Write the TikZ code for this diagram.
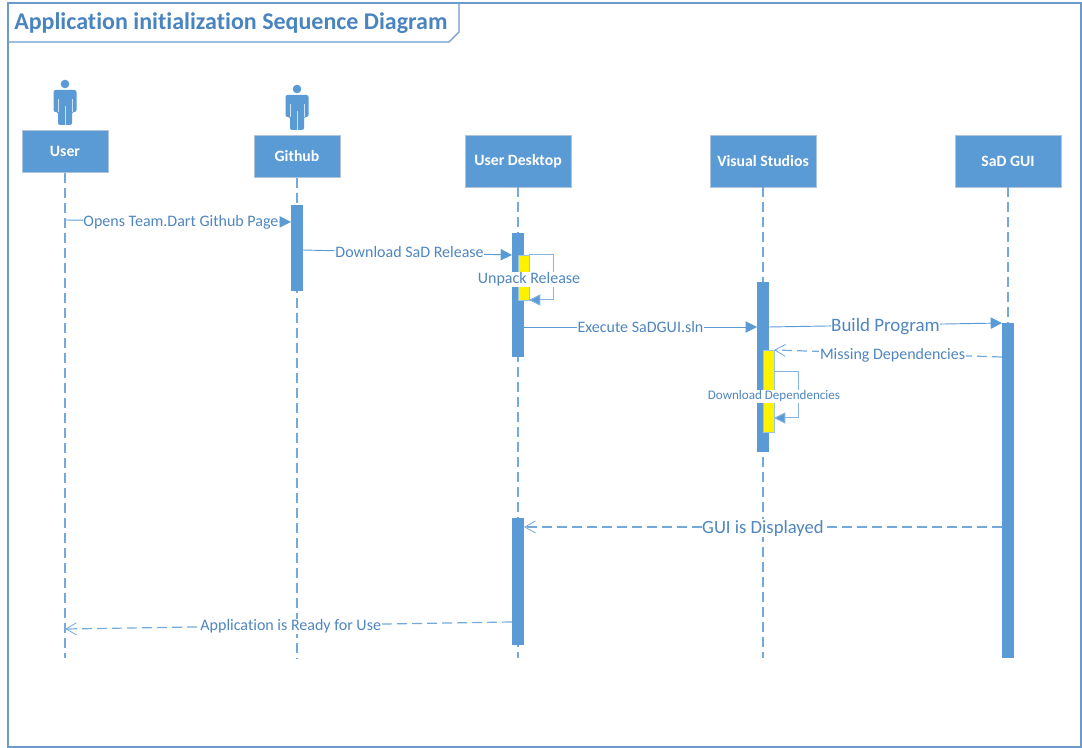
\documentclass[tikz,border=0pt]{standalone}
\usepackage{fontspec}
\setmainfont{Carlito}[Ligatures=NoCommon]
\usepackage{tikz}
\usetikzlibrary{positioning,arrows.meta,calc}
\usepackage{xcolor}
\definecolor{officeBlue}{HTML}{5B9BD5}
\definecolor{frameBlue}{HTML}{6A9BCB}
\definecolor{titleBlue}{HTML}{4A84BF}
\definecolor{labelBlue}{HTML}{4F86C0}
\definecolor{edgeGray}{HTML}{AFC4D8}

\begin{document}
\begin{tikzpicture}[
    x=0.75pt, y=-0.75pt,
    frameBox/.style={draw=frameBlue, line width=0.9pt},
    headBox/.style={rectangle, draw=edgeGray, fill=officeBlue, line width=0.6pt, font=\bfseries\fontsize{11.8}{13}\selectfont, text=white, align=center, minimum width=#1, inner sep=0pt, outer sep=0pt},
    lifeLine/.style={draw=officeBlue!85, line width=0.95pt, dash pattern=on 7.5pt off 3.75pt},
    execBar/.style={rectangle, fill=officeBlue, draw=none, minimum width=9pt, inner sep=0pt, outer sep=0pt, anchor=north},
    waitBar/.style={rectangle, fill=yellow, draw=officeBlue!60!white, line width=0.4pt, minimum width=8.25pt, inner sep=0pt, outer sep=0pt, anchor=north west},
    callArrow/.style={-{Triangle[length=8.5pt,width=8.5pt]}, draw=officeBlue, line width=0.7pt},
    loopArrow/.style={-{Triangle[length=8.5pt,width=8.5pt,fill=officeBlue]}, draw=officeBlue!75, line width=0.75pt},
    backArrow/.style={-{Straight Barb[length=8pt,width=9pt,line width=0.6pt]}, draw=officeBlue!85, line width=0.9pt, dash pattern=on 7.5pt off 3.75pt},
    msgLabel/.style={fill=white, text=labelBlue, inner sep=0.5pt, yshift=-0.8pt, font=\fontsize{#1}{13}\selectfont},
    msgLabel/.default=12,
    actorFig/.pic={
        \fill[officeBlue] (0,0) circle[radius=4.3];
        \fill[officeBlue, rounded corners=1.5pt] (-11.5,6) -- (11.5,6) -- (11.5,28) -- (7,28) -- (7,41) -- (-7,41) -- (-7,28) -- (-11.5,28) -- cycle;
        \draw[white!70!officeBlue, line width=0.5pt] (-7,15) -- (-7,28) (7,15) -- (7,28) (0,22) -- (0,41);
    }
]
    \useasboundingbox (0,0) rectangle (1082,748);

    \draw[frameBox] (8,3) rectangle (1081,747);
    \draw[frameBox] (8,42) -- (449,42) -- (459,32) -- (459,3);
    \node[anchor=west, inner sep=0pt, text=titleBlue, font=\bfseries\fontsize{18}{22}\selectfont] (title) at (14,23) {Application initialization Sequence Diagram};

    \pic at (65,84) {actorFig};
    \pic at (297,89) {actorFig};

    \node[headBox=64.5pt, minimum height=32pt, anchor=north] (user) at (65,130) {User};
    \node[headBox=64.5pt, minimum height=32pt, anchor=north] (github) at (297,135) {Github};
    \node[headBox=79.5pt, minimum height=39pt, anchor=north] (desktop) at (518,135) {User Desktop};
    \node[headBox=79.5pt, minimum height=39pt, anchor=north] (studio) at (763,135) {Visual Studios};
    \node[headBox=79.5pt, minimum height=39pt, anchor=north] (gui) at (1008,135) {SaD GUI};

    \coordinate (userEnd) at (65,658);
    \coordinate (githubEnd) at (297,658);
    \coordinate (desktopEnd) at (518,658);
    \coordinate (studioEnd) at (763,658);
    \coordinate (guiEnd) at (1008,658);
    \draw[lifeLine] (user.south) -- (userEnd);
    \draw[lifeLine] (github.south) -- (githubEnd);
    \draw[lifeLine] (desktop.south) -- (desktopEnd);
    \draw[lifeLine] (studio.south) -- (studioEnd);
    \draw[lifeLine] (gui.south) -- (guiEnd);

    \node[execBar, minimum height=64.5pt] (githubBar) at (297,205) {};
    \node[execBar, minimum height=93pt] (desktopBar) at (518,233) {};
    \node[execBar, minimum height=95.25pt] (desktopBarB) at (518,518) {};
    \node[execBar, minimum height=127.5pt] (studioBar) at (763,282) {};
    \node[execBar, minimum height=251.25pt] (guiBar) at (1008,323) {};
    \node[waitBar, minimum height=33.75pt] (desktopWait) at (518,255) {};
    \node[waitBar, minimum height=61.5pt] (studioWait) at (763,350) {};

    \draw[callArrow] (userEnd |- 0,220) -- node[msgLabel, pos=0.513] {Opens Team.Dart Github Page} (githubBar.west |- 0,222);
    \draw[callArrow] (githubBar.east |- 0,250) -- node[msgLabel, pos=0.51, yshift=1pt] {Download SaD Release} (desktopBar.west |- 0,255);
    \draw[loopArrow] (desktopWait.north east) -- ++(24,0) -- ++(0,45) -- node[msgLabel, pos=1, yshift=16pt, anchor=center] (unpack) {Unpack Release} (desktopWait.south east);
    \draw[callArrow] (desktopBar.east |- 0,327) -- node[msgLabel, yshift=0.6pt] {Execute SaDGUI.sln} (studioBar.west |- 0,327);
    \draw[callArrow] (studioBar.east |- 0,327) -- node[msgLabel=14.2] {Build Program} (guiBar.west |- 0,323);
    \draw[backArrow] (guiBar.west |- 0,357) -- node[msgLabel, pos=0.48, yshift=-0.5pt] {Missing Dependencies} (studioWait.north east);
    \draw[loopArrow] (studioWait.east |- 0,372) -- ++(24,0) -- ++(0,46) -- node[msgLabel=9.8, pos=1, yshift=17pt, anchor=center] (depend) {Download Dependencies} (studioWait.east |- 0,418);
    \draw[backArrow] (guiBar.west |- 0,527) -- node[msgLabel=14] {GUI is Displayed} (desktopBarB.east |- 0,527);
    \draw[backArrow] (desktopBarB.west |- 0,622) -- node[msgLabel, pos=0.495] {Application is Ready for Use} (userEnd |- 0,629);
\end{tikzpicture}
\end{document}
